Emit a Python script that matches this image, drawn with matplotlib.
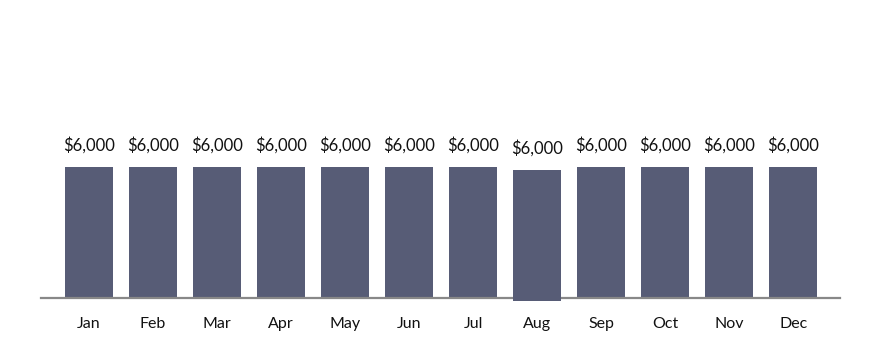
import matplotlib.pyplot as plt
import matplotlib.transforms as mtransforms

months = ["Jan", "Feb", "Mar", "Apr", "May", "Jun",
          "Jul", "Aug", "Sep", "Oct", "Nov", "Dec"]
values = [6000] * 12
highlight = "Aug"  # this bar is drawn nudged down (hover state)

plt.rcParams["font.family"] = ["Lato", "DejaVu Sans"]

fig = plt.figure(figsize=(8.81, 3.53), dpi=100)
ax = fig.add_axes([41 / 881, 55 / 353, 799 / 881, 263 / 353])

x = list(range(len(months)))
for i, (m, v) in enumerate(zip(months, values)):
    trans = ax.transData
    z = 2
    if m == highlight:
        trans = mtransforms.offset_copy(ax.transData, fig=fig, x=0, y=-3, units="dots")
        z = 4
    ax.bar(i, v, width=0.75, color="#575c76", transform=trans, zorder=z, clip_on=False)
    ax.text(i, v, f"${v:,.0f}", ha="center", va="bottom", fontsize=12,
            color="#111111", transform=mtransforms.offset_copy(trans, fig=fig, x=0, y=13, units="dots"))

ax.set_xlim(-0.75, 11.73)
ax.set_ylim(0, 12000)
ax.set_xticks(x)
ax.set_xticklabels(months, fontsize=11.5, color="#111111")
ax.tick_params(axis="x", length=0, pad=14)
ax.set_yticks([])
for side in ["top", "right", "left"]:
    ax.spines[side].set_visible(False)
ax.spines["bottom"].set_color("#888888")
ax.spines["bottom"].set_linewidth(1.6)
ax.spines["bottom"].set_zorder(3)

fig.savefig("out.png", dpi=100)
